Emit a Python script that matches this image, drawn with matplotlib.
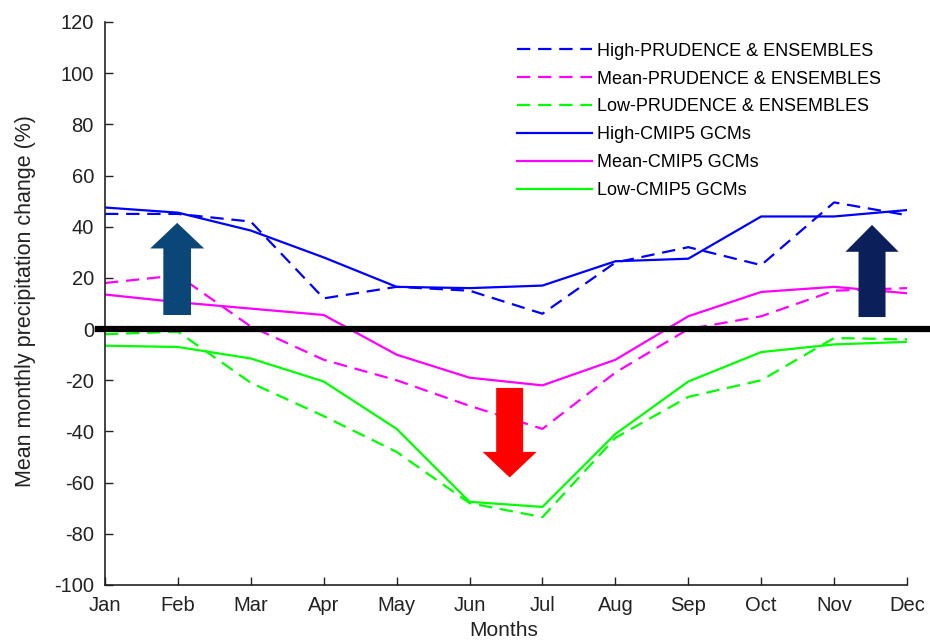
import numpy as np
import matplotlib
matplotlib.use('Agg')
import matplotlib.pyplot as plt

plt.rcParams['font.family'] = ['Liberation Sans', 'DejaVu Sans']
plt.rcParams['axes.unicode_minus'] = False

months = ['Jan', 'Feb', 'Mar', 'Apr', 'May', 'Jun',
          'Jul', 'Aug', 'Sep', 'Oct', 'Nov', 'Dec']

# PRUDENCE & ENSEMBLES (dashed)
high_prud = [45, 45, 42, 12, 16.5, 15, 6, 26, 32, 25, 49.5, 44.5]
mean_prud = [18, 21, 1, -12, -20, -30, -39, -17, 0, 5, 15, 16]
low_prud = [-2, -1, -21, -34, -48, -68, -73.5, -42.5, -26.5, -20, -3.5, -4]

# CMIP5 GCMs (solid)
high_cmip = [47.5, 45.5, 38.5, 28, 16.5, 16, 17, 26.5, 27.5, 44, 44, 46.5]
mean_cmip = [13.5, 10.5, 8, 5.5, -10, -19, -22, -12, 5, 14.5, 16.5, 14]
low_cmip = [-6.5, -7, -11.5, -20.5, -39, -67.5, -69.5, -41, -20.5, -9, -6, -5]

x = np.arange(len(months))

fig = plt.figure(figsize=(9.3, 6.41), dpi=100)
ax = fig.add_axes([0.1129, 0.0874, 0.8624, 0.8783])

dash = (6, 3.5)
lw = 1.6
ax.plot(x, high_prud, color='#0000ff', lw=lw, dashes=dash, label='High-PRUDENCE & ENSEMBLES')
ax.plot(x, mean_prud, color='#ff00ff', lw=lw, dashes=dash, label='Mean-PRUDENCE & ENSEMBLES')
ax.plot(x, low_prud, color='#00ff00', lw=lw, dashes=dash, label='Low-PRUDENCE & ENSEMBLES')
ax.plot(x, high_cmip, color='#0000ff', lw=lw, label='High-CMIP5 GCMs')
ax.plot(x, mean_cmip, color='#ff00ff', lw=lw, label='Mean-CMIP5 GCMs')
ax.plot(x, low_cmip, color='#00ff00', lw=lw, label='Low-CMIP5 GCMs')

# thick zero line running past the axes
ax.plot([-0.1, 11.35], [0, 0], color='black', lw=4.5, clip_on=False, zorder=5)

# arrows
ax.arrow(0.99, 5.5, 0, 36, width=0.38, head_width=0.74, head_length=10,
         length_includes_head=True, color='#0a4677', lw=0, zorder=6)
ax.arrow(10.52, 4.7, 0, 36, width=0.37, head_width=0.73, head_length=10.5,
         length_includes_head=True, color='#0b1f5a', lw=0, zorder=6)
ax.arrow(5.55, -23, 0, -35, width=0.37, head_width=0.74, head_length=10,
         length_includes_head=True, color='#ff0000', lw=0, zorder=6)

ax.set_xlim(0, 11)
ax.set_ylim(-100, 120)
ax.set_xticks(x)
ax.set_xticklabels(months)
ax.set_yticks(np.arange(-100, 121, 20))
ax.tick_params(direction='in', length=6, width=1, labelsize=14.5, colors='#222222')
ax.tick_params(axis='x', pad=8)
ax.tick_params(axis='y', pad=8)
for s in ['top', 'right']:
    ax.spines[s].set_visible(False)
for s in ['left', 'bottom']:
    ax.spines[s].set_color('#222222')
    ax.spines[s].set_linewidth(1.2)

ax.set_xlabel('Months', fontsize=15, color='#222222')
ax.set_ylabel('Mean monthly precipitation change (%)', fontsize=15.5, color='#222222')
ax.xaxis.set_label_coords(0.4975, -0.064)
ax.yaxis.set_label_coords(-0.086, 0.504)

ax.legend(loc='upper left', bbox_to_anchor=(0.514, 0.963), frameon=False,
          fontsize=13, handlelength=4.15, handletextpad=0.28, labelspacing=0.6,
          borderpad=0, borderaxespad=0)

fig.savefig('out.png', dpi=100)
